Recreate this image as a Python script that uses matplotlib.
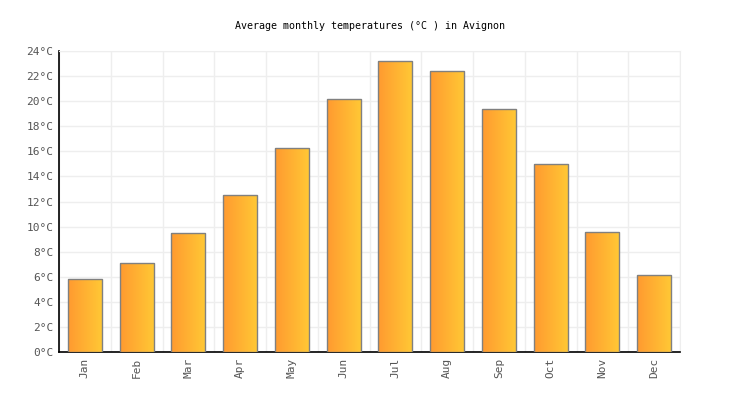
import matplotlib
matplotlib.use("Agg")
import matplotlib.pyplot as plt
import numpy as np
from matplotlib.colors import LinearSegmentedColormap
from matplotlib.patches import Rectangle

months = ["Jan", "Feb", "Mar", "Apr", "May", "Jun", "Jul", "Aug", "Sep", "Oct", "Nov", "Dec"]
temps = [5.8, 7.1, 9.5, 12.5, 16.3, 20.2, 23.2, 22.4, 19.4, 15.0, 9.6, 6.1]
yticks = list(range(0, 25, 2))
ytick_labels = [f"{v}°C" for v in yticks]
title = "Average monthly temperatures (°C ) in Avignon"

plt.rcParams['font.family'] = ['DejaVu Sans Mono']

fig = plt.figure(figsize=(7.4, 4.0), dpi=100)
ax = fig.add_axes([59/740, 48/400, 621/740, 301/400])

cmap = LinearSegmentedColormap.from_list("g", ["#ff9a30", "#ffc935"])
grad = np.linspace(0, 1, 256).reshape(1, -1)
x = np.arange(len(months))
width = 0.66
for xi, v in zip(x, temps):
    x0 = xi - width / 2
    im = ax.imshow(grad, extent=[x0, x0 + width, 0, v], aspect='auto', cmap=cmap, zorder=3)
    rect = Rectangle((x0, 0), width, v, facecolor='none', edgecolor='#808080', linewidth=1.0, zorder=4)
    ax.add_patch(rect)
    im.set_clip_path(rect)

ax.set_xlim(-0.5, len(months) - 0.5)
ax.set_ylim(0, 24)
ax.set_xticks(x)
ax.set_xticklabels(months, rotation=90, color='#555555', fontsize=8)
ax.set_yticks(yticks)
ax.set_yticklabels(ytick_labels, color='#555555', fontsize=8)
ax.set_xticks(np.arange(-0.5, len(months), 1), minor=True)
ax.grid(True, which='major', axis='y', color='#eeeeee', linewidth=1, zorder=0)
ax.grid(True, which='minor', axis='x', color='#eeeeee', linewidth=1, zorder=0)
ax.tick_params(which='both', length=0, pad=4)
ax.set_axisbelow(True)
for s in ['top', 'right']:
    ax.spines[s].set_color('#eeeeee')
for s in ['left', 'bottom']:
    ax.spines[s].set_color('black')
    ax.spines[s].set_linewidth(1.2)

fig.text(370/740, 1 - 26/400, title, ha='center', va='center', fontsize=7.2, color='black')

fig.savefig("out.png", dpi=100)
